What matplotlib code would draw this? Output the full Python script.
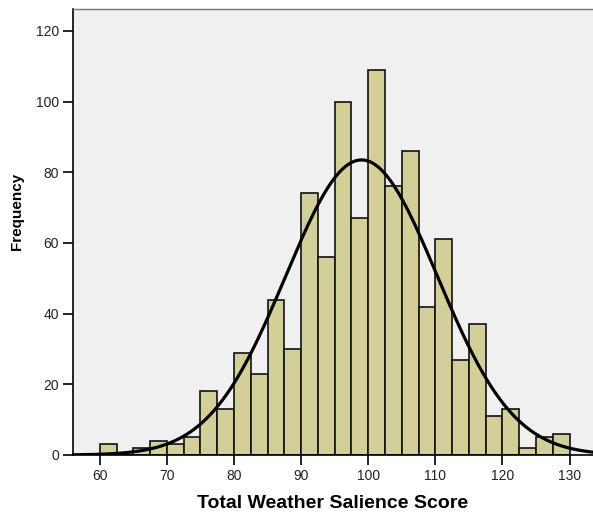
import numpy as np
import matplotlib
matplotlib.use("Agg")
import matplotlib.pyplot as plt

plt.rcParams['font.family'] = ['Liberation Sans', 'DejaVu Sans']

# histogram: left edges of the 2.5-wide bins and counts
bin_edges = [60, 62.5, 65, 67.5, 70, 72.5, 75, 77.5, 80, 82.5, 85, 87.5,
             90, 92.5, 95, 97.5, 100, 102.5, 105, 107.5, 110, 112.5, 115,
             117.5, 120, 122.5, 125, 127.5]
counts = [3, 0, 2, 4, 3, 5, 18, 13, 29, 23, 44, 30,
          74, 56, 100, 67, 109, 76, 86, 42, 61, 27, 37,
          11, 13, 2, 5, 6]
bin_width = 2.5

# fitted normal curve
mean_score = 99.0
sd_score = 11.3
n_cases = sum(counts)

xticks = [60, 70, 80, 90, 100, 110, 120, 130]
yticks = [0, 20, 40, 60, 80, 100, 120]

fig = plt.figure(figsize=(5.93, 5.14), dpi=100)
ax = fig.add_axes([73/593, 59/514, 1 - 73/593, (455 - 9)/514])
ax.set_facecolor('#F0F0F0')

ax.bar(bin_edges, counts, width=bin_width, align='edge',
       color='#D3CF98', edgecolor='#111111', linewidth=1.2, zorder=2)

xs = np.linspace(56, 134, 400)
ys = n_cases * bin_width / (sd_score * np.sqrt(2 * np.pi)) * \
    np.exp(-0.5 * ((xs - mean_score) / sd_score) ** 2)
ax.plot(xs, ys, color='black', linewidth=2.3, zorder=3)

ax.set_xlim(56, 133.5)
ax.set_ylim(0, 126.2)
ax.set_xticks(xticks)
ax.set_yticks(yticks)
ax.tick_params(direction='out', length=7, width=1.2, labelsize=10,
               color='black', labelcolor='#222222', pad=3)

ax.spines['right'].set_visible(False)
ax.spines['top'].set_color('#777777')
ax.spines['top'].set_linewidth(1.0)
ax.spines['left'].set_linewidth(1.2)
ax.spines['bottom'].set_linewidth(1.2)

ax.set_xlabel('Total Weather Salience Score', fontsize=14, fontweight='bold',
              labelpad=9)
ax.set_ylabel('Frequency', fontsize=11, fontweight='bold')
ax.yaxis.set_label_coords(-0.094, 0.547)

fig.savefig('out.png', dpi=100)
